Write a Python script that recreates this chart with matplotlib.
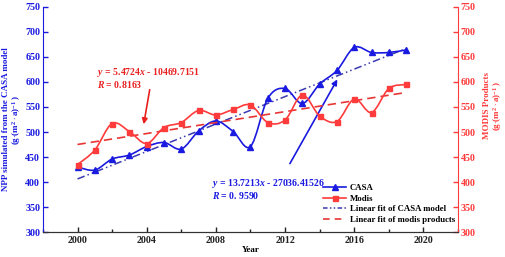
import matplotlib
matplotlib.use("Agg")
import matplotlib.pyplot as plt
from matplotlib.path import Path
from matplotlib.patches import PathPatch
from matplotlib.lines import Line2D
from matplotlib.ticker import MultipleLocator

plt.rcParams['font.family'] = ['Liberation Serif', 'DejaVu Serif']
plt.rcParams['font.weight'] = 'bold'
plt.rcParams['mathtext.fontset'] = 'custom'
plt.rcParams['mathtext.rm'] = 'Liberation Serif:bold'
plt.rcParams['mathtext.it'] = 'Liberation Serif:bold:italic'

years = [2000, 2001, 2002, 2003, 2004, 2005, 2006, 2007, 2008, 2009,
         2010, 2011, 2012, 2013, 2014, 2015, 2016, 2017, 2018, 2019]
casa = [430, 424, 446, 454, 471, 479, 466, 502, 522, 501,
        471, 567, 587, 557, 596, 623, 669, 659, 659, 664]
modis = [435, 464, 517, 501, 477, 509, 519, 543, 534, 545,
         554, 519, 524, 574, 532, 521, 566, 539, 587, 595]

casa_fit = (13.7213, -27036.41526)
modis_fit = (5.4724, -10469.7151)
fit_range = [2000, 2019]

BLUE = '#1a1ae0'
NAVY = '#3a3ab0'
RED = '#ff3b3b'
TXTRED = '#e82020'


def smooth_path(xs, ys):
    # catmull-rom style curve drawn as cubic bezier segments
    verts = [(xs[0], ys[0])]
    codes = [Path.MOVETO]
    n = len(xs)
    for i in range(n - 1):
        x0, y0 = (xs[i - 1], ys[i - 1]) if i > 0 else (xs[i], ys[i])
        x1, y1 = xs[i], ys[i]
        x2, y2 = xs[i + 1], ys[i + 1]
        x3, y3 = (xs[i + 2], ys[i + 2]) if i + 2 < n else (x2, y2)
        c1 = (x1 + (x2 - x0) / 6, y1 + (y2 - y0) / 6)
        c2 = (x2 - (x3 - x1) / 6, y2 - (y3 - y1) / 6)
        verts += [c1, c2, (x2, y2)]
        codes += [Path.CURVE4] * 3
    return Path(verts, codes)


fig = plt.figure(figsize=(5.05, 2.57), dpi=100)
ax = fig.add_axes([0.085, 0.097, 0.822, 0.876])
ax2 = ax.twinx()

# CASA on the left axis
ax.add_patch(PathPatch(smooth_path(years, casa), facecolor='none',
                       edgecolor=BLUE, lw=1.2, zorder=3))
ax.plot(years, casa, ls='none', marker='^', ms=4, color=BLUE, zorder=4)
fx = fit_range
ax.plot(fx, [casa_fit[0] * x + casa_fit[1] for x in fx], color=NAVY,
        lw=1.1, dashes=(5, 2, 1, 2, 1, 2), zorder=2)

# MODIS on the right axis
ax2.add_patch(PathPatch(smooth_path(years, modis), facecolor='none',
                        edgecolor=RED, lw=1.2, zorder=3))
ax2.plot(years, modis, ls='none', marker='s', ms=3.6, color=RED, zorder=4)
ax2.plot(fx, [modis_fit[0] * x + modis_fit[1] for x in fx], color='#e83535',
         lw=1.2, dashes=(5, 3), zorder=2)

for a in (ax, ax2):
    a.set_xlim(1998, 2022)
    a.set_ylim(300, 750)
    a.yaxis.set_major_locator(MultipleLocator(50))
    a.spines['top'].set_visible(False)

ax.xaxis.set_major_locator(MultipleLocator(4))
ax.xaxis.set_minor_locator(MultipleLocator(2))
ax.tick_params(axis='x', which='both', direction='in', labelsize=7.2,
               colors='#222222', width=1, pad=3)
ax.tick_params(axis='x', which='minor', length=2)
ax.tick_params(axis='y', direction='in', colors=BLUE, labelsize=7.2,
               width=1, pad=2)
ax2.tick_params(axis='y', direction='in', colors=RED, labelsize=7.2,
                width=1, pad=2)
ax.spines['left'].set_color(BLUE)
ax.spines['right'].set_visible(False)
ax2.spines['left'].set_visible(False)
ax2.spines['right'].set_color(RED)
ax2.spines['bottom'].set_color('#333333')
ax.spines['bottom'].set_color('#333333')

ax.set_xlabel('Year', fontsize=6.5, fontweight='bold')
ax.xaxis.set_label_coords(0.5, -0.06)
ax.set_ylabel('NPP simulated from the CASA model\n(g$\\cdot$(m$^2\\cdot$a)$^{-1}$ )',
              color=BLUE, fontsize=6.5, fontweight='bold', linespacing=1.0)
ax.yaxis.set_label_coords(-0.047, 0.5)
ax2.set_ylabel('MODIS Products\n(g$\\cdot$(m$^2\\cdot$a)$^{-1}$ )',
               color=RED, fontsize=6.5, fontweight='bold', linespacing=1.0)
ax2.yaxis.set_label_coords(1.06, 0.56)

# equations and arrows
ax.text(2001.1, 618, '$y$ = 5.4724$x$ - 10469.7151', color=TXTRED,
        fontsize=7, fontweight='bold', va='center')
ax.text(2001.1, 594, '$R$ = 0.8163', color=TXTRED,
        fontsize=7, fontweight='bold', va='center')
ax.annotate('', xy=(2003.8, 510), xytext=(2004.2, 590),
            arrowprops=dict(arrowstyle='-|>', color=TXTRED, lw=1.2,
                            mutation_scale=8))
ax.text(2007.8, 398, '$y$ = 13.7213$x$ - 27036.41526', color=BLUE,
        fontsize=7, fontweight='bold', va='center')
ax.text(2007.8, 374, '$R$ = 0. 9590', color=BLUE,
        fontsize=7, fontweight='bold', va='center')
ax.annotate('', xy=(2015.1, 610), xytext=(2012.2, 432),
            arrowprops=dict(arrowstyle='-|>', color=BLUE, lw=1.2,
                            mutation_scale=8))

handles = [
    Line2D([], [], color=BLUE, marker='^', ms=4, lw=1.2),
    Line2D([], [], color=RED, marker='s', ms=3.6, lw=1.2),
    Line2D([], [], color=NAVY, lw=1.1, dashes=(3, 1.5, 1, 1.5, 1, 1.5)),
    Line2D([], [], color='#e83535', lw=1.2, dashes=(4, 3)),
]
labels = ['CASA', 'Modis', 'Linear fit of CASA model',
          'Linear fit of modis products']
ax2.legend(handles, labels, loc='lower right', bbox_to_anchor=(1.005, 0.012),
           frameon=False, handlelength=2.6, labelspacing=0.3,
           borderpad=0.1, handletextpad=0.4,
           prop={'weight': 'bold', 'size': 6.3})

fig.savefig('out.png', dpi=100)
